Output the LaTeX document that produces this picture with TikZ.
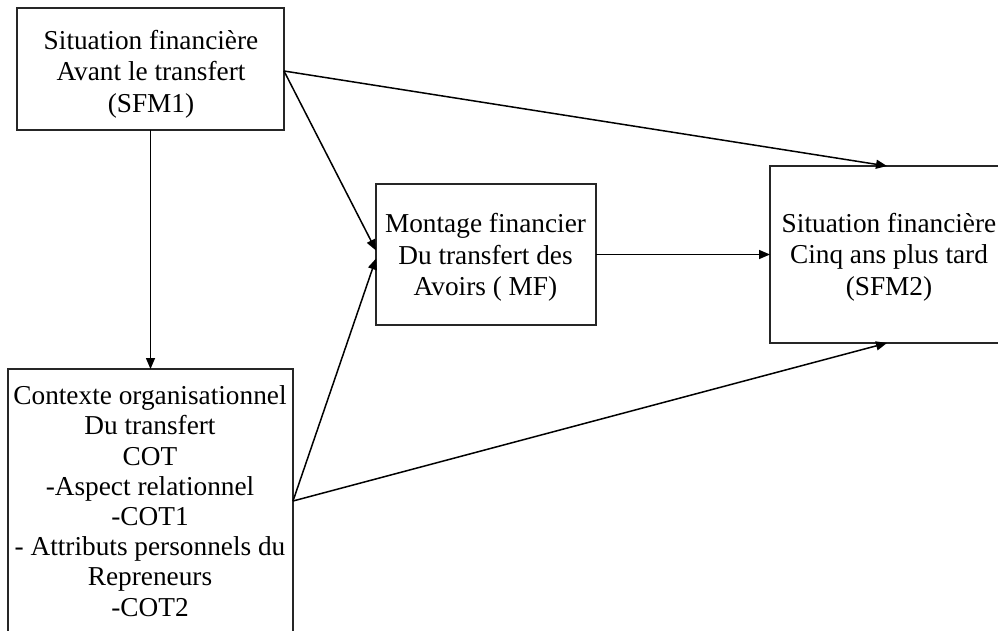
\documentclass[tikz,border=0pt]{standalone}
\usepackage{fontspec}
\setmainfont{Liberation Serif}
\usetikzlibrary{arrows.meta,calc}

\begin{document}
\begin{tikzpicture}[x=1pt,y=-1pt,
  box/.style={draw=black!85, line width=1.5pt, rectangle, inner sep=0pt, outer sep=0pt},
  label3/.style={align=center, inner sep=0pt, font=\fontsize{27.3}{31.5}\selectfont},
  label8/.style={align=center, inner sep=0pt, font=\fontsize{27.3}{30.2}\selectfont},
  link/.style={line width=1.5pt, -{Triangle[length=11pt,width=9pt]}}
]
\useasboundingbox (0,0) rectangle (998,631);
\clip (0,0) rectangle (998,631);

% boxes
\node[box, minimum width=267pt, minimum height=122pt] (sfm1) at (150.5,69) {};
\node[box, minimum width=220pt, minimum height=141pt] (mf) at (486,254.5) {};
\node[box, minimum width=238pt, minimum height=177pt] (sfm2) at (889,254.5) {};
\node[box, minimum width=285pt, minimum height=271pt] (cot) at (150.5,504.5) {};

% texts
\node[label3] (sfm1txt) at (151,74) {Situation financière\\Avant le transfert\\(SFM1)};
\node[label3] (mftxt) at (485.5,257.5) {Montage financier\\Du transfert des\\Avoirs ( MF)};
\node[label3] (sfm2txt) at (889,257) {Situation financière\\Cinq ans plus tard\\(SFM2)};
\node[label8] (cottxt) at (150,501) {Contexte organisationnel\\Du transfert\\COT\\-Aspect relationnel\\-COT1\\- Attributs personnels du\\Repreneurs\\-COT2};

% connector end points on the box sides
\coordinate (s1out) at ([yshift=-2pt]sfm1.east);
\coordinate (cotout) at ([yshift=3.5pt]cot.east);

% connectors
\draw[link] (sfm1.south) -- (cot.north);
\draw[link] (s1out) -- ([xshift=-2pt]sfm2.north);
\draw[link] (s1out) -- ([yshift=4pt]mf.west);
\draw[link] (cotout) -- ([yshift=-4pt]mf.west);
\draw[link] (cotout) -- ([xshift=-2pt]sfm2.south);
\draw[link] (mf.east) -- (sfm2.west);
\end{tikzpicture}
\end{document}
